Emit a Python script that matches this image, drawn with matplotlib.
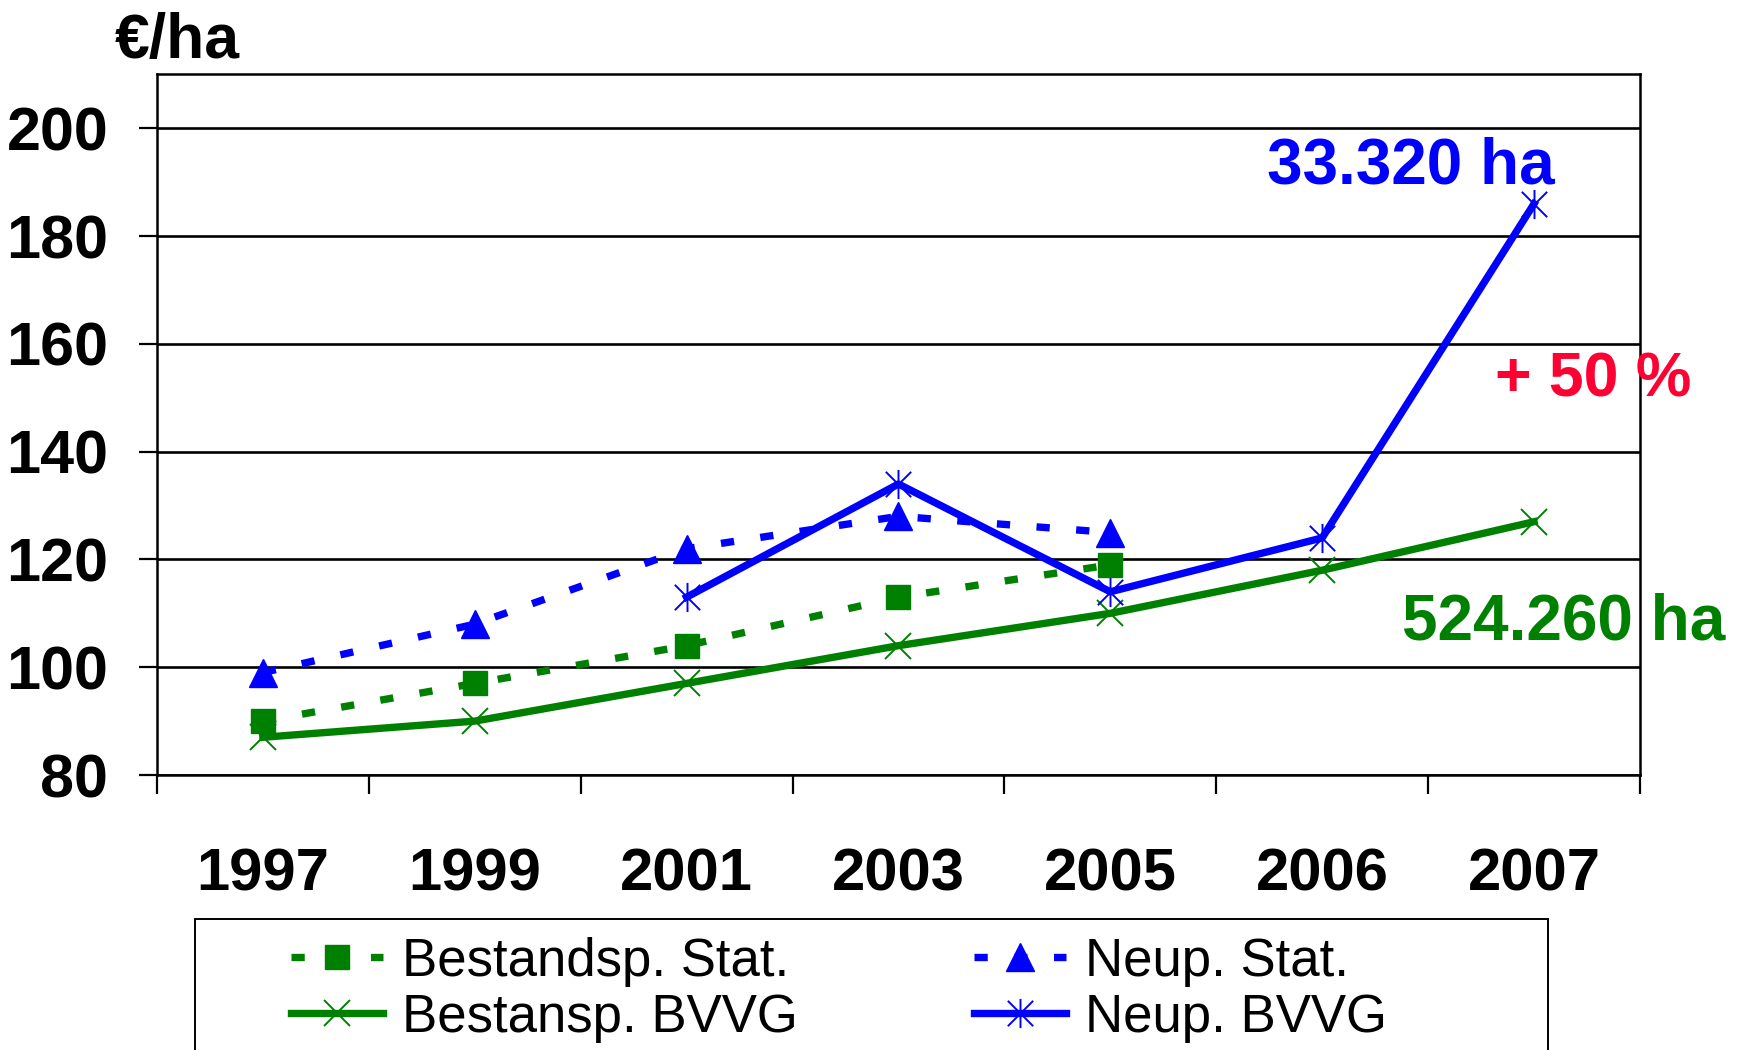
import matplotlib
matplotlib.use("Agg")
import matplotlib.pyplot as plt
import numpy as np
from matplotlib.path import Path
from matplotlib.patches import Rectangle

plt.rcParams['font.family'] = ['Liberation Sans', 'DejaVu Sans']

years = ["1997", "1999", "2001", "2003", "2005", "2006", "2007"]
bestand_stat = [90, 97, 104, 113, 119, np.nan, np.nan]
neup_stat = [99, 108, 122, 128, 125, np.nan, np.nan]
bestand_bvvg = [87, 90, 97, 104, 110, 118, 127]
neup_bvvg = [np.nan, np.nan, 113, 134, 114, 124, 186]

labels = ["Bestandsp. Stat.", "Neup. Stat.", "Bestansp. BVVG", "Neup. BVVG"]

green = "#008000"
blue = "#0000FF"
red = "#FF0033"

# asterisk marker: X plus vertical bar
star = Path([(-1, -1), (1, 1), (-1, 1), (1, -1), (0, -1.15), (0, 1.15)],
            [Path.MOVETO, Path.LINETO, Path.MOVETO, Path.LINETO, Path.MOVETO, Path.LINETO])

fig = plt.figure(figsize=(17.4, 10.5), dpi=100)
ax = fig.add_axes([0.0902, 0.2619, 0.9425 - 0.0902, 0.9291 - 0.2619])

x = np.arange(len(years))
lw = 5.3
dash = (1.8, 3.6)
ax.plot(x, bestand_stat, color=green, lw=lw, dashes=dash, dash_capstyle='butt',
        marker='s', ms=17, label=labels[0])
ax.plot(x, neup_stat, color=blue, lw=lw, dashes=dash, dash_capstyle='butt',
        marker='^', ms=20, label=labels[1])
ax.plot(x, bestand_bvvg, color=green, lw=lw, marker='x', ms=19, mew=1.4, label=labels[2])
ax.plot(x, neup_bvvg, color=blue, lw=lw, marker=star, ms=21, mew=1.4, label=labels[3])

ax.set_xlim(-0.5, len(years) - 0.5)
ax.set_ylim(80, 210)
ax.set_yticks(np.arange(80, 201, 20))
ax.grid(axis='y', color='black', lw=1.9)
ax.set_axisbelow(True)
for s in ax.spines.values():
    s.set_linewidth(1.8)

ax.tick_params(axis='y', length=13, width=1.6, pad=22, labelsize=44)
for t in ax.get_yticklabels():
    t.set_fontweight('bold')

# boundaries get the tick marks, centres get the year labels
ax.set_xticks(np.arange(-0.5, len(years)))
ax.set_xticklabels([])
ax.set_xticks(x, minor=True)
ax.set_xticklabels(years, minor=True, fontsize=43, fontweight='bold')
ax.tick_params(axis='x', which='major', length=14, width=1.6)
ax.tick_params(axis='x', which='minor', length=0, pad=52)

fig.text(0.0657, 0.9448, "€/ha", fontsize=45, fontweight='bold', ha='left', va='baseline')

ax.text(5.418, 189.7, "33.320 ha", color=blue, fontsize=46, fontweight='bold',
        ha='center', va='baseline')
ax.text(6.28, 150.3, "+ 50 %", color=red, fontsize=45, fontweight='bold',
        ha='center', va='baseline', clip_on=False)
ax.text(6.14, 105.2, "524.260 ha", color=green, fontsize=46, fontweight='bold',
        ha='center', va='baseline', clip_on=False)

h, l = ax.get_legend_handles_labels()
order = [0, 2, 1, 3]
fig.legend([h[i] for i in order], [l[i] for i in order], ncol=2, loc='upper left',
           bbox_to_anchor=(0.1672, 0.108), frameon=False, fontsize=38,
           borderpad=0, borderaxespad=0, handlelength=1.74, handletextpad=0.36,
           columnspacing=3.35, labelspacing=0.12)
fig.add_artist(Rectangle((195 / 1740, -0.05), (1548 - 195) / 1740, 0.1248 + 0.05,
                         transform=fig.transFigure, fill=False, ec='black', lw=1.4))

fig.savefig("out.png", dpi=100)
